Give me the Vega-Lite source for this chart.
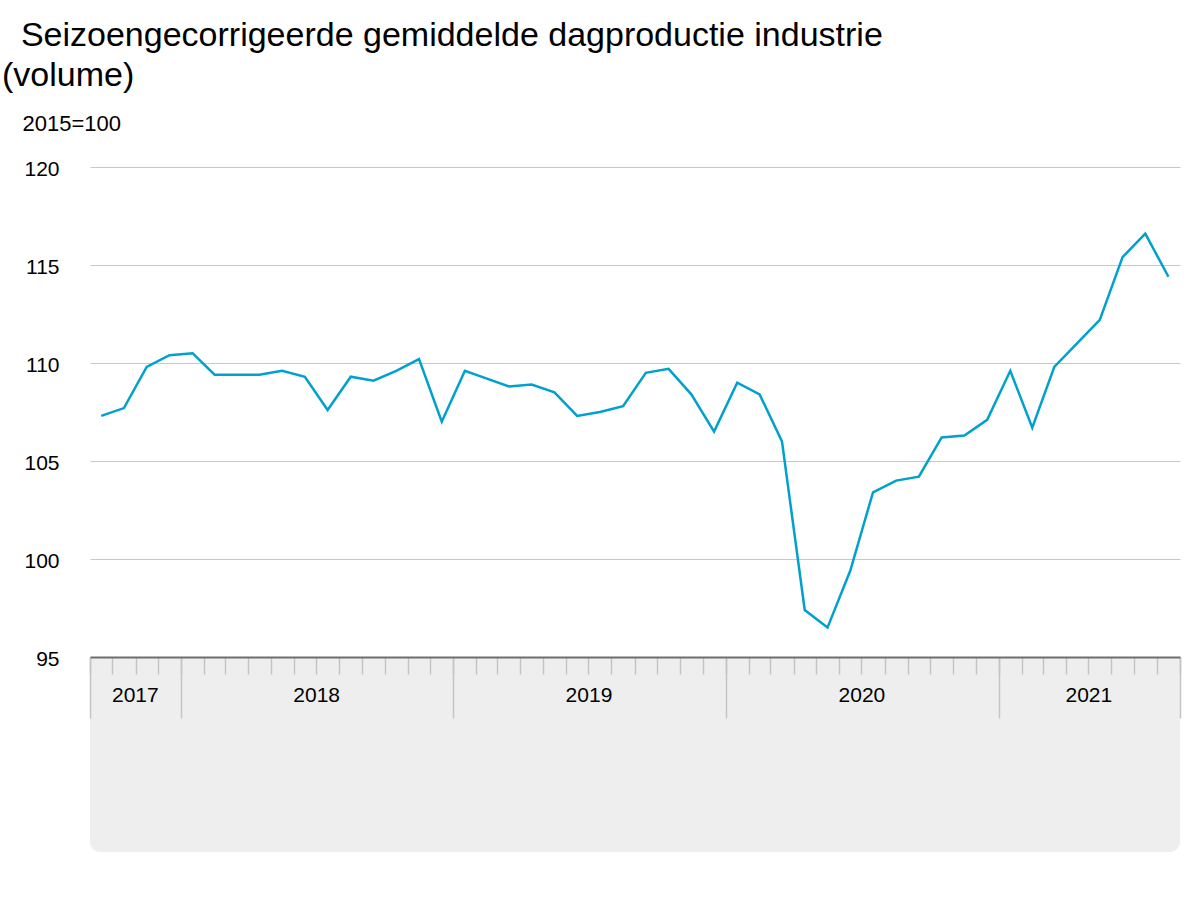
{
  "$schema": "https://vega.github.io/schema/vega-lite/v6.json",
  "width": 1090,
  "height": 490,
  "autosize": {"type": "none"},
  "padding": {"left": 90, "top": 167, "right": 20, "bottom": 243},
  "background": "white",
  "config": {"font": "Liberation Sans", "view": {"stroke": null}},
  "title": {
    "text": ["\u200b\u00a0\u00a0Seizoengecorrigeerde gemiddelde dagproductie industrie", "(volume)"],
    "anchor": "start",
    "frame": "group",
    "dx": -88,
    "fontSize": 34,
    "fontWeight": "normal",
    "lineHeight": 40,
    "color": "#000000",
    "offset": 19
  },
  "data": {
    "format": {"parse": {"maand": "date"}},
    "values": [
      {"maand": "2017-09-01", "index": 107.3},
      {"maand": "2017-10-01", "index": 107.7},
      {"maand": "2017-11-01", "index": 109.8},
      {"maand": "2017-12-01", "index": 110.4},
      {"maand": "2018-01-01", "index": 110.5},
      {"maand": "2018-02-01", "index": 109.4},
      {"maand": "2018-03-01", "index": 109.4},
      {"maand": "2018-04-01", "index": 109.4},
      {"maand": "2018-05-01", "index": 109.6},
      {"maand": "2018-06-01", "index": 109.3},
      {"maand": "2018-07-01", "index": 107.6},
      {"maand": "2018-08-01", "index": 109.3},
      {"maand": "2018-09-01", "index": 109.1},
      {"maand": "2018-10-01", "index": 109.6},
      {"maand": "2018-11-01", "index": 110.2},
      {"maand": "2018-12-01", "index": 107.0},
      {"maand": "2019-01-01", "index": 109.6},
      {"maand": "2019-02-01", "index": 109.2},
      {"maand": "2019-03-01", "index": 108.8},
      {"maand": "2019-04-01", "index": 108.9},
      {"maand": "2019-05-01", "index": 108.5},
      {"maand": "2019-06-01", "index": 107.3},
      {"maand": "2019-07-01", "index": 107.5},
      {"maand": "2019-08-01", "index": 107.8},
      {"maand": "2019-09-01", "index": 109.5},
      {"maand": "2019-10-01", "index": 109.7},
      {"maand": "2019-11-01", "index": 108.4},
      {"maand": "2019-12-01", "index": 106.5},
      {"maand": "2020-01-01", "index": 109.0},
      {"maand": "2020-02-01", "index": 108.4},
      {"maand": "2020-03-01", "index": 106.0},
      {"maand": "2020-04-01", "index": 97.4},
      {"maand": "2020-05-01", "index": 96.5},
      {"maand": "2020-06-01", "index": 99.4},
      {"maand": "2020-07-01", "index": 103.4},
      {"maand": "2020-08-01", "index": 104.0},
      {"maand": "2020-09-01", "index": 104.2},
      {"maand": "2020-10-01", "index": 106.2},
      {"maand": "2020-11-01", "index": 106.3},
      {"maand": "2020-12-01", "index": 107.1},
      {"maand": "2021-01-01", "index": 109.6},
      {"maand": "2021-02-01", "index": 106.7},
      {"maand": "2021-03-01", "index": 109.8},
      {"maand": "2021-04-01", "index": 111.0},
      {"maand": "2021-05-01", "index": 112.2},
      {"maand": "2021-06-01", "index": 115.4},
      {"maand": "2021-07-01", "index": 116.6},
      {"maand": "2021-08-01", "index": 114.4}
    ]
  },
  "resolve": {"axis": {"x": "independent", "y": "independent"}},
  "layer": [
    {
      "data": {"values": [{}]},
      "mark": {"type": "rect", "color": "#eeeeee", "cornerRadiusBottomLeft": 10, "cornerRadiusBottomRight": 10},
      "encoding": {
        "x": {
          "datum": {"year": 2017, "month": 9, "date": 1, "utc": true},
          "type": "temporal",
          "scale": {"type": "utc", "nice": false, "domain": [{"year": 2017, "month": 9, "date": 1, "utc": true}, {"year": 2021, "month": 9, "date": 1, "utc": true}]},
          "axis": {
            "orient": "bottom",
            "title": null,
            "labels": false,
            "domain": false,
            "grid": false,
            "values": [
              {"year": 2017, "month": 9, "date": 1, "utc": true},
              {"year": 2018, "month": 1, "date": 1, "utc": true},
              {"year": 2019, "month": 1, "date": 1, "utc": true},
              {"year": 2020, "month": 1, "date": 1, "utc": true},
              {"year": 2021, "month": 1, "date": 1, "utc": true},
              {"year": 2021, "month": 9, "date": 1, "utc": true}
            ],
            "tickSize": 61,
            "tickColor": "#c4c4c4",
            "tickWidth": 1.5,
            "zindex": 1
          }
        },
        "x2": {"datum": {"year": 2021, "month": 9, "date": 1, "utc": true}},
        "y": {"datum": 95, "type": "quantitative", "scale": {"domain": [95, 120], "nice": false, "zero": false}, "axis": null},
        "y2": {"datum": 85.05}
      }
    },
    {
      "mark": {"type": "line", "color": "#00a1cd", "strokeWidth": 2.5, "strokeJoin": "miter"},
      "encoding": {
        "x": {
          "field": "maand",
          "timeUnit": "utcyearmonth",
          "type": "temporal",
          "bandPosition": 0.5,
          "scale": {"type": "utc", "nice": false, "domain": [{"year": 2017, "month": 9, "date": 1, "utc": true}, {"year": 2021, "month": 9, "date": 1, "utc": true}]},
          "axis": {
            "orient": "bottom",
            "title": null,
            "labels": false,
            "grid": false,
            "tickCount": {"interval": "month", "step": 1},
            "tickSize": 17,
            "tickColor": "#c4c4c4",
            "tickWidth": 1.5,
            "domainColor": "#6e6e6e",
            "domainWidth": 2,
            "zindex": 2
          }
        },
        "y": {
          "field": "index",
          "type": "quantitative",
          "scale": {"domain": [95, 120], "nice": false, "zero": false},
          "axis": {
            "orient": "left",
            "values": [95, 100, 105, 110, 115, 120],
            "grid": true,
            "gridColor": "#c8c8c8",
            "gridWidth": 1,
            "domain": false,
            "ticks": false,
            "tickSize": 0,
            "labelPadding": 31,
            "labelFontSize": 21,
            "labelColor": "#000000",
            "labelOffset": 2.5,
            "title": "2015=100",
            "titleAngle": 0,
            "titleAlign": "left",
            "titleBaseline": "alphabetic",
            "titleX": -68,
            "titleY": -37,
            "titleFontSize": 22,
            "titleFontWeight": "normal",
            "titleColor": "#000000",
            "zindex": 0
          }
        }
      }
    },
    {
      "mark": {"type": "text", "fontSize": 21, "color": "#000000", "align": "center", "baseline": "middle", "dx": 11.4},
      "encoding": {
        "x": {
          "aggregate": "mean",
          "field": "maand",
          "type": "temporal",
          "scale": {"type": "utc", "nice": false, "domain": [{"year": 2017, "month": 9, "date": 1, "utc": true}, {"year": 2021, "month": 9, "date": 1, "utc": true}]},
          "axis": null
        },
        "y": {"datum": 93.0, "type": "quantitative", "scale": {"domain": [95, 120], "nice": false, "zero": false}, "axis": null},
        "text": {"field": "maand", "timeUnit": "utcyear", "type": "ordinal"}
      }
    }
  ]
}
